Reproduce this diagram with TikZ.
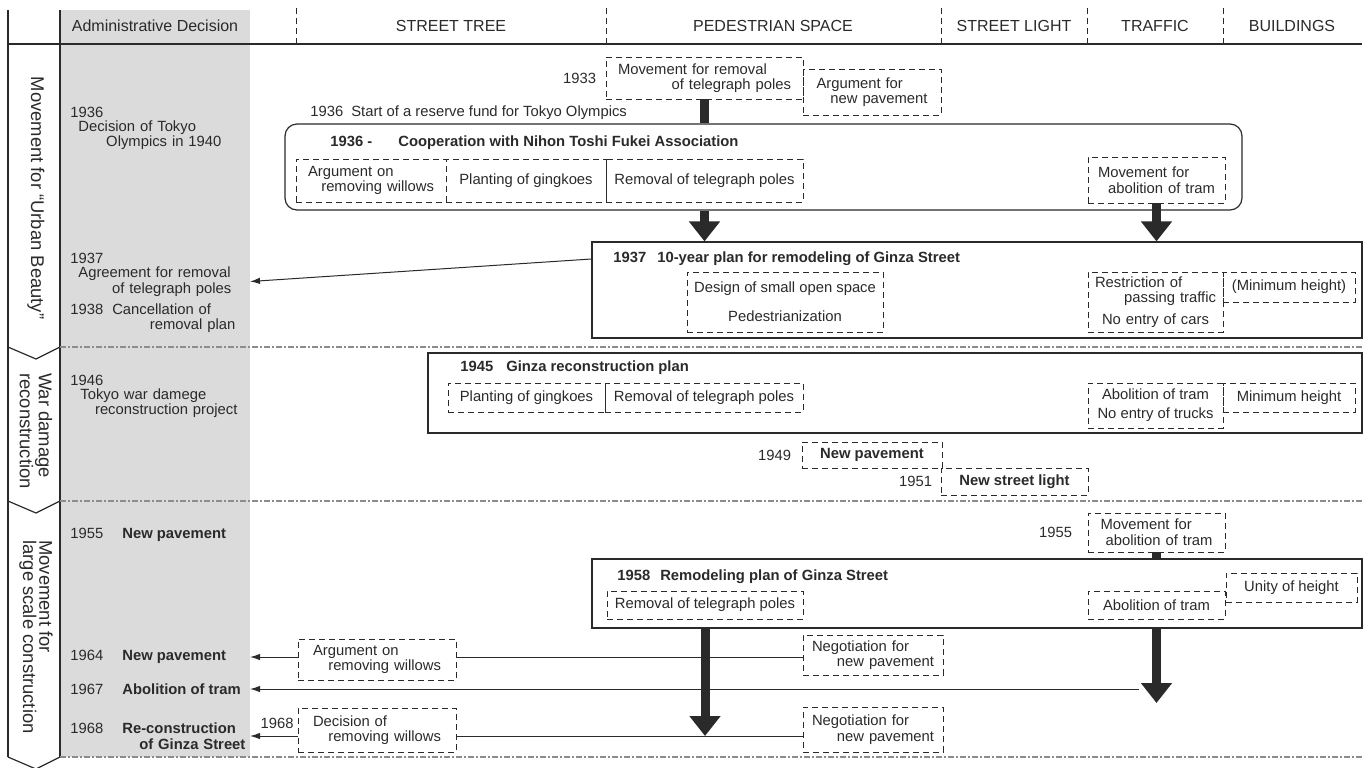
\documentclass[tikz,border=0pt]{standalone}
\usepackage{fontspec}
\setmainfont{Liberation Sans}
\usepackage{tikz}
\usetikzlibrary{arrows.meta, positioning, calc}

\definecolor{ink}{HTML}{2A2A2A}
\definecolor{band}{HTML}{DBDBDB}
\definecolor{sepgray}{HTML}{8C8C8C}

% first line flush left, second line flush right
\newcommand{\fl}[2]{#1\\\hspace*{\fill}#2}
% year and event in the administrative column
\newcommand{\yev}[2]{\makebox[26pt][l]{#1}\textbf{#2}}

\begin{document}
\begin{tikzpicture}[
    x=0.5pt, y=-0.5pt,
    every node/.style={text=ink, font=\fontsize{7.4}{7.8}\selectfont},
    dbox/.style={draw=ink, line width=0.45pt, dash pattern=on 3pt off 2pt, inner sep=0pt, align=left},
    plan/.style={draw=ink, line width=0.6pt, inner sep=0pt},
    title/.style={anchor=west, inner sep=0pt, font=\fontsize{7.4}{7.8}\selectfont\bfseries},
    note/.style={anchor=west, inner sep=0pt, align=left},
    yr/.style={inner sep=0pt},
    head/.style={font=\fontsize{8}{9}\selectfont},
    period/.style={rotate=-90, align=left, inner sep=0pt, font=\fontsize{9.2}{8.2}\selectfont},
    sep/.style={draw=sepgray, line width=0.7pt, dash pattern=on 3pt off 1pt on 1pt off 1pt},
    bigarrow/.style={draw=ink, line width=4.5pt, -{Triangle[width=15pt,length=10pt]}},
    bar/.style={draw=ink, line width=4.5pt},
    arrow/.style={draw=ink, line width=0.5pt, -{Latex[length=5pt,width=3.2pt]}},
    link/.style={draw=ink, line width=0.5pt}
]
    \useasboundingbox (0,0) rectangle (1371,767);

    % Frame and header
    \fill[band] (60,10) rectangle (250,757);
    \draw[ink, line width=0.6pt] (8,10) -- (8,757) (60,10) -- (60,757);
    \draw[ink, line width=0.6pt] (8,44) -- (1362,44);
    \foreach \x in {296,606,941,1087,1223}
        \draw[ink, line width=0.45pt, dash pattern=on 3pt off 2pt] (\x,8) -- (\x,44);
    \foreach \y in {347,501,757}
        \draw[ink, line width=0.6pt] (8,\y) -- (36,\y+12) -- (60,\y);
    \draw[sep] (60,347) -- (1362,347);
    \draw[sep] (60,501) -- (1362,501);
    \draw[sep] (60,757) -- (1362,757);
    \coordinate (bandedge) at (250,0);

    \node[head] (hadmin) at (155,26) {Administrative Decision};
    \node[head] (htree) at (451,26) {STREET TREE};
    \node[head] (hped) at (773,26) {PEDESTRIAN SPACE};
    \node[head] (hlight) at (1014,26) {STREET LIGHT};
    \node[head] (htraffic) at (1155,26) {TRAFFIC};
    \node[head] (hbuild) at (1292,26) {BUILDINGS};

    % Periods
    \node[period] (p1) at (36,198) {Movement for “Urban Beauty”};
    \node[period] (p2) at (36,431) {War damage\\reconstruction};
    \node[period] (p3) at (36,637) {Movement for\\large scale construction};

    % Administrative decisions
    \node[note] (a36yr) at (70,112) {1936};
    \node[note, text width=71.5pt] (a36) at (78,135) {\fl{Decision of Tokyo}{Olympics in 1940}};
    \node[note] (a37yr) at (70,258) {1937};
    \node[note, text width=76.5pt] (a37) at (78,281.5) {\fl{Agreement for removal}{of telegraph poles}};
    \node[note, text width=82.5pt] (a38) at (70,318) {\fl{1938\hspace{4.5pt}Cancellation of}{removal plan}};
    \node[note] (a46yr) at (70,380) {1946};
    \node[note, text width=78.5pt] (a46) at (80,403) {\fl{Tokyo war damege}{reconstruction project}};
    \node[note] (a55) at (70,535) {\yev{1955}{New pavement}};
    \node[note] (a64) at (70,657) {\yev{1964}{New pavement}};
    \node[note] (a67) at (70,689) {\yev{1967}{Abolition of tram}};
    \node[note, text width=87.5pt] (a68) at (70,736) {\fl{\yev{1968}{Re-construction}}{\textbf{of Ginza Street}}};

    % 1933 - 1936
    \node[dbox, minimum width=98.5pt, minimum height=21pt, text width=86.5pt] (mvtel) at (704.5,78) {\fl{Movement for removal}{of telegraph poles}};
    \node[yr, left=4.5pt of mvtel] (y33) {1933};
    \node[dbox, minimum width=69pt, minimum height=23pt, text width=55.5pt] (argpave) at (872,92) {\fl{Argument for}{new pavement}};
    \node[note] (reserve) at (310,113) {1936\hspace{4pt}Start of a reserve fund for Tokyo Olympics};

    \node[plan, rounded corners=6pt, minimum width=478.5pt, minimum height=43pt] (coop) at (763.5,167) {};
    \node[title] (t36) at (330,143) {1936 -\hspace{13pt}Cooperation with Nihon Toshi Fukei Association};
    \node[dbox, minimum width=75pt, minimum height=21.5pt, text width=63pt] (argwil1) at (371,180.5) {\fl{Argument on}{removing willows}};
    \node[dbox, minimum width=80pt, minimum height=21.5pt] (gink1) at (526,180.5) {Planting of gingkoes};
    \node[dbox, minimum width=98.5pt, minimum height=21.5pt] (telp1) at (704.5,180.5) {Removal of telegraph poles};
    \node[dbox, minimum width=68.5pt, minimum height=23pt, text width=58.5pt] (mvtram1) at (1156.5,180) {\fl{Movement for}{abolition of tram}};

    % 1937 plan
    \node[plan, minimum width=385pt, minimum height=48pt] (plan37) at (977,290) {};
    \node[title] (t37) at (613,259) {1937\hspace{5.5pt}10-year plan for remodeling of Ginza Street};
    \node[dbox, align=center, minimum width=98pt, minimum height=30pt] (design) at (785,302) {Design of small open space\\[6.7pt]Pedestrianization};
    \node[dbox, minimum width=67.5pt, minimum height=30pt, text width=60.5pt] (restrict) at (1155.5,302)
        {\fl{Restriction of}{passing traffic}\\[3pt]\hspace*{\fill}No entry of cars\hspace*{\fill}};
    \node[dbox, minimum width=66pt, minimum height=15pt] (minh1) at (1289,287) {(Minimum height)};

    % 1945 plan
    \node[plan, minimum width=467pt, minimum height=40pt] (plan45) at (895,393) {};
    \node[title] (t45) at (460,368) {1945\hspace{6.5pt}Ginza reconstruction plan};
    \node[dbox, minimum width=78.5pt, minimum height=14.5pt] (gink2) at (526.5,397.5) {Planting of gingkoes};
    \node[dbox, minimum width=99pt, minimum height=14.5pt] (telp2) at (704,397.5) {Removal of telegraph poles};
    \node[dbox, align=center, minimum width=67.5pt, minimum height=22.5pt] (abtram2) at (1155.5,405.5) {Abolition of tram\\[1.7pt]No entry of trucks};
    \node[dbox, minimum width=66pt, minimum height=14.5pt] (minh2) at (1289,397.5) {Minimum height};

    \node[dbox, minimum width=70pt, minimum height=13pt, font=\fontsize{7.4}{7.8}\selectfont\bfseries] (pave49) at (872,455) {New pavement};
    \node[yr, left=5pt of pave49] (y49) {1949};
    \node[dbox, minimum width=73.5pt, minimum height=13.5pt, font=\fontsize{7.4}{7.8}\selectfont\bfseries] (light51) at (1014.5,481.5) {New street light};
    \node[yr, left=4pt of light51] (y51) {1951};

    % 1955 - 1968
    \node[dbox, minimum width=68.5pt, minimum height=19.5pt, text width=56pt] (mvtram55) at (1156.5,532.5) {\fl{Movement for}{abolition of tram}};
    \node[yr, left=7.5pt of mvtram55] (y55) {1955};

    \node[plan, minimum width=385pt, minimum height=34.5pt] (plan58) at (977,593.5) {};
    \node[title] (t58) at (617,577) {1958\hspace{5pt}Remodeling plan of Ginza Street};
    \node[dbox, minimum width=98pt, minimum height=14pt] (telp3) at (705,605) {Removal of telegraph poles};
    \node[dbox, minimum width=68.5pt, minimum height=14pt] (abtram3) at (1156.5,605) {Abolition of tram};
    \node[dbox, minimum width=65.5pt, minimum height=14.5pt] (unity) at (1291.5,587.5) {Unity of height};

    \node[dbox, minimum width=70pt, minimum height=20pt, text width=61pt] (nego1) at (873,655) {\fl{Negotiation for}{new pavement}};
    \node[dbox, minimum width=70pt, minimum height=22.5pt, text width=61pt] (nego2) at (873,729.5) {\fl{Negotiation for}{new pavement}};
    \node[dbox, minimum width=79pt, minimum height=20.5pt, text width=64pt] (argwil2) at (377,659.5) {\fl{Argument on}{removing willows}};
    \node[dbox, minimum width=79pt, minimum height=22pt, text width=64pt] (decwil) at (377,730) {\fl{Decision of}{removing willows}};
    \node[yr, anchor=east] (y68) at (294,723) {1968};

    \coordinate (tramend) at ($(abtram3.south |- a67)+(0,14)$);

    % Flows
    \draw[bar] (mvtel.south) -- (mvtel.south |- coop.north);
    \draw[bigarrow] (telp1.south |- coop.south) -- (telp1.south |- plan37.north);
    \draw[bigarrow] (mvtram1.south) -- (mvtram1.south |- plan37.north);
    \draw[arrow] (plan37.west |- t37) -- (a37 -| bandedge);
    \draw[bar] (mvtram55.south) -- (mvtram55.south |- plan58.north);
    \draw[bigarrow] (abtram3.south |- plan58.south) -- (tramend);
    \draw[bigarrow] (telp3.south |- plan58.south) -- (telp3.south |- a68);
    \draw[link] (nego1.west |- a64) -- (argwil2.east |- a64);
    \draw[arrow] (argwil2.west |- a64) -- (a64 -| bandedge);
    \draw[arrow] ($(abtram3.south |- a67)+(-18,0)$) -- (a67 -| bandedge);
    \draw[link] (nego2.west |- a68) -- (decwil.east |- a68);
    \draw[arrow] (decwil.west |- a68) -- (a68 -| bandedge);
\end{tikzpicture}
\end{document}
